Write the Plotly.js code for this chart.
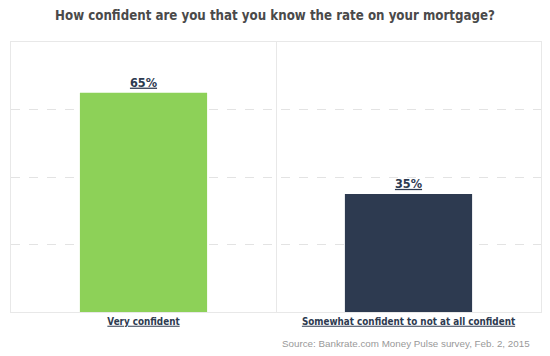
<!DOCTYPE html>
<html><head><meta charset="utf-8">
<script src="https://cdn.plot.ly/plotly-3.0.1.min.js"></script>
<style>body{margin:0;padding:0;background:#fff}#chart{width:550px;height:356px}</style>
</head><body><div id="chart"></div>
<script>
const categories = ["Very confident", "Somewhat confident to not at all confident"];
const values = [65, 35];
const barColors = ["#8dd158", "#2d3a50"];
const titleText = "How confident are you that you know the rate on your mortgage?";
const sourceText = "Source: Bankrate.com Money Pulse survey, Feb. 2, 2015";

const u = s => '<span style="text-decoration:underline">' + s + '</span>';
const NARROW = '"DejaVu Sans Condensed", "DejaVu Sans", sans-serif';

const trace = {
  type: 'bar',
  x: categories,
  y: values,
  marker: {color: barColors},
  text: values.map(v => '<b>' + u(v + '%') + '</b>'),
  textposition: 'outside',
  textfont: {family: NARROW, size: 12.6, color: '#2d3a50'},
  cliponaxis: false,
  hoverinfo: 'none'
};

const layout = {
  width: 550, height: 356,
  margin: {l: 11, r: 9, t: 42, b: 44},
  paper_bgcolor: '#fff', plot_bgcolor: '#fff',
  title: {text: '<b>' + titleText + '</b>', x: 0.5, xanchor: 'center', y: 0.958, yanchor: 'middle',
          font: {family: NARROW, size: 13.2, color: '#4a4a4a'}},
  bargap: 0.52,
  showlegend: false,
  xaxis: {
    tickson: 'boundaries', showgrid: true, gridcolor: '#e8e8e8', gridwidth: 1,
    showline: true, linecolor: '#e8e8e8', mirror: true, tickangle: 0, automargin: false,
    ticks: '', tickvals: categories, ticktext: categories.map(c => '<b>' + u(c) + '</b>'),
    tickfont: {family: NARROW, size: 9.8, color: '#2d3a50'}
  },
  yaxis: {
    range: [0, 80], dtick: 20, showticklabels: false, ticks: '',
    showgrid: true, gridcolor: '#e3e3e3', griddash: 'dash', zeroline: false,
    showline: true, linecolor: '#e8e8e8', mirror: true
  },
  annotations: [{
    text: sourceText, xref: 'paper', yref: 'paper', x: 0.983, y: -0.09,
    xanchor: 'right', yanchor: 'top', showarrow: false,
    font: {family: '"Liberation Sans", Arial, sans-serif', size: 9.8, color: '#999'}
  }]
};

Plotly.newPlot('chart', [trace], layout, {displayModeBar: false, staticPlot: true});
</script></body></html>
